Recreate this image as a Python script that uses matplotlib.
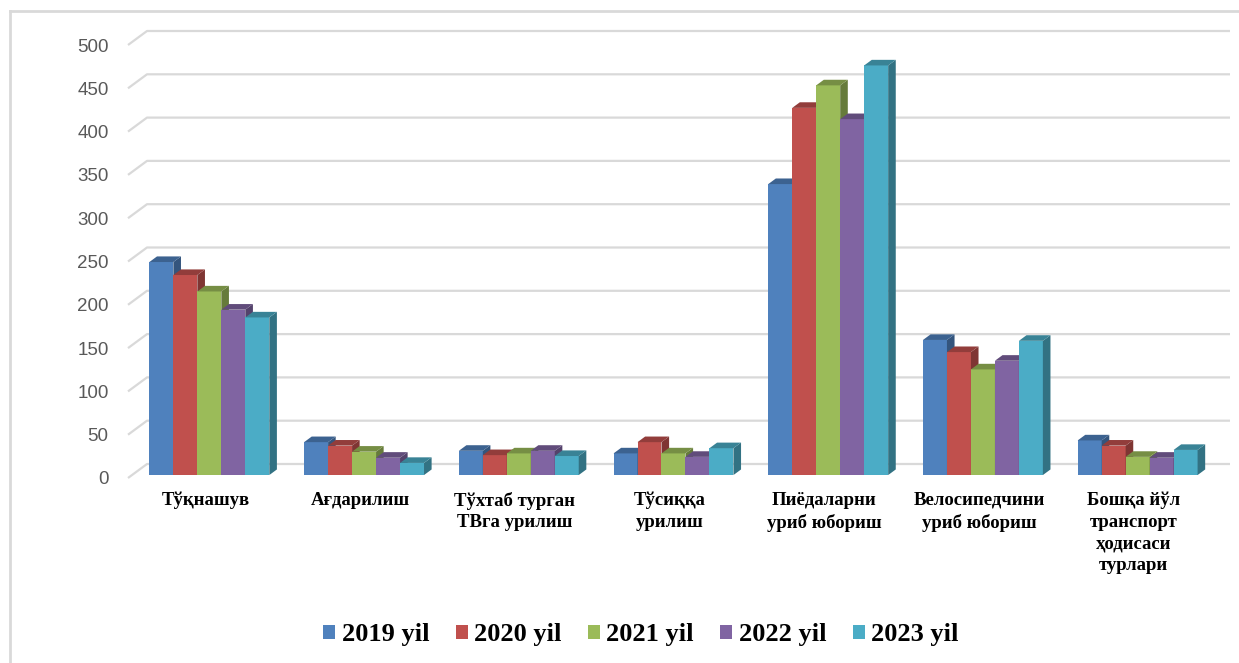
import matplotlib
matplotlib.use("Agg")
import matplotlib.pyplot as plt
from matplotlib.patches import Polygon, Patch
from matplotlib.lines import Line2D
from matplotlib.colors import to_rgb
import numpy as np

# ---------------- data ----------------
categories = [
    "Тўқнашув",
    "Ағдарилиш",
    "Тўхтаб турган\nТВга урилиш",
    "Тўсиққа\nурилиш",
    "Пиёдаларни\nуриб юбориш",
    "Велосипедчини\nуриб юбориш",
    "Бошқа йўл\nтранспорт\nҳодисаси\nтурлари",
]
years = ["2019 yil", "2020 yil", "2021 yil", "2022 yil", "2023 yil"]
v2019 = [246, 38, 28, 25, 336, 156, 40]
v2020 = [231, 34, 23, 38, 424, 142, 34]
v2021 = [212, 27, 25, 25, 450, 122, 21]
v2022 = [191, 20, 28, 21, 411, 132, 20]
v2023 = [182, 14, 22, 31, 473, 155, 29]
series = [v2019, v2020, v2021, v2022, v2023]
yticks = list(range(0, 501, 50))
colors = ["#4F81BD", "#C0504D", "#9BBB59", "#8064A2", "#4BACC6"]

# ---------------- geometry ----------------
W, H = 1239, 663
fig = plt.figure(figsize=(W / 100, H / 100), dpi=100)

ax_l, ax_r = 128, 1230      # pixel extents of plot (front-left to back-right)
ax_b, ax_t = 478, 31
wall_dx_px, wall_dy_px = 19, 14
ncat = len(categories)
ppx = (ax_r - ax_l - wall_dx_px) / ncat
ppv = (ax_b - ax_t - wall_dy_px) / 500.0
DX = wall_dx_px / ppx
DY = wall_dy_px / ppv

ax = fig.add_axes([ax_l / W, (H - ax_b) / H, (ax_r - ax_l) / W, (ax_b - ax_t) / H])
ax.set_xlim(0, ncat + DX)
ax.set_ylim(0, 500 + DY)
for s in ax.spines.values():
    s.set_visible(False)
ax.patch.set_alpha(0)

grid_c = "#D9D9D9"
for v in yticks:
    ax.plot([0, DX, ncat + DX], [v, v + DY, v + DY], color=grid_c, lw=1.6,
            zorder=1, clip_on=False, solid_capstyle="butt")

fd, bd = 0.21, 0.40
x0off, y0off = fd * DX, fd * DY
bdx, bdy = bd * DX, bd * DY
bw = 0.155
nser = len(series)


def shade(c, f):
    r, g, b = to_rgb(c)
    return (r * f, g * f, b * f)


xc = np.arange(ncat) + 0.5
for j, (vals, c) in enumerate(zip(series, colors)):
    lefts = xc - nser / 2 * bw + j * bw + x0off
    bars = ax.bar(lefts, vals, width=bw, bottom=y0off, align="edge", color=c,
                  linewidth=0)
    for i, (p, v) in enumerate(zip(bars, vals)):
        z = 2 + 0.01 * (i * nser + j)
        p.set_zorder(z)
        xl = lefts[i]
        xr = xl + bw
        yt = y0off + v
        side = Polygon([(xr, y0off), (xr + bdx, y0off + bdy), (xr + bdx, yt + bdy), (xr, yt)],
                       closed=True, facecolor=shade(c, 0.66), edgecolor="none", zorder=z)
        top = Polygon([(xl, yt), (xr, yt), (xr + bdx, yt + bdy), (xl + bdx, yt + bdy)],
                      closed=True, facecolor=shade(c, 0.76), edgecolor="none", zorder=z)
        ax.add_patch(side)
        ax.add_patch(top)

# y axis labels
ax.set_yticks(yticks)
ax.set_yticklabels([str(v) for v in yticks], family="Liberation Sans", fontsize=13.5,
                   color="#595959")
ax.tick_params(axis="y", length=0, pad=14)

# category labels
ax.set_xticks(xc)
ax.set_xticklabels(categories, family="Liberation Serif", fontweight="bold",
                   fontsize=13.5, color="#000000", linespacing=1.35)
ax.tick_params(axis="x", length=0, pad=10)

# legend
handles = [Patch(facecolor=c, edgecolor="none") for c in colors]
fig.legend(handles, years, loc="center", bbox_to_anchor=(641 / W, 1 - 635 / H),
           ncol=5, frameon=False,
           prop=dict(family="Liberation Serif", weight="bold", size=19),
           handlelength=0.45, handleheight=0.45, handletextpad=0.25,
           columnspacing=1.0)

# chart-area border (top and left visible)
fig.add_artist(Line2D([10 / W, 10 / W], [0, 1 - 11 / H], color=grid_c, lw=2))
fig.add_artist(Line2D([10 / W, 1], [1 - 11 / H, 1 - 11 / H], color=grid_c, lw=2))

fig.savefig("out.png", dpi=100)
